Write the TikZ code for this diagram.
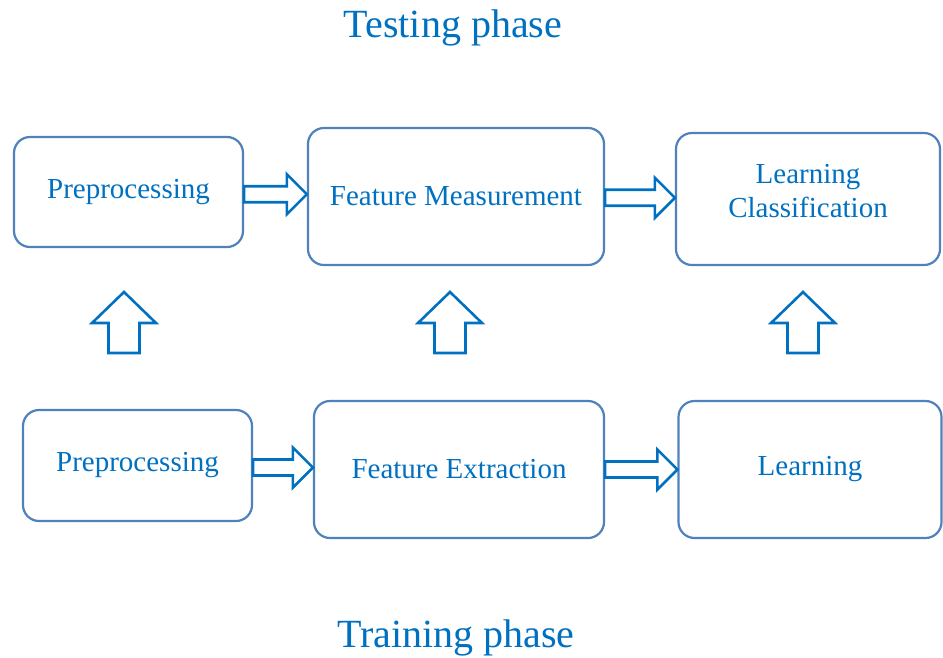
\documentclass[tikz,border=0pt]{standalone}
\usepackage{fontspec}
\setmainfont{Liberation Serif}
\usetikzlibrary{calc}
\definecolor{boxline}{HTML}{4F81BD}
\definecolor{txtblue}{HTML}{0070C0}
\tikzset{
  stage/.style={draw=boxline, line width=2.2pt, rounded corners=16pt, text=txtblue,
    align=center, font=\fontsize{29}{34}\selectfont},
  fatarrow/.style={draw=txtblue, line width=2.6pt, fill=white, line join=miter},
  phase/.style={text=txtblue, font=\fontsize{40}{48}\selectfont, anchor=base}
}
\begin{document}
\begin{tikzpicture}[x=1pt,y=-1pt]
  \useasboundingbox (0,0) rectangle (943,657);
  % testing phase (top row)
  \node[stage, minimum width=229pt, minimum height=110pt] (tpre) at (128.5,192) {Preprocessing};
  \node[stage, minimum width=296pt, minimum height=137pt] (tfeat) at (456,196.5) {Feature Measurement};
  \node[stage, minimum width=264pt, minimum height=132pt] (tclass) at (808,199) {};
  \node[text=txtblue, align=center, font=\fontsize{29}{34}\selectfont] (tclasstxt) at (808,191) {Learning\\Classification};
  % training phase (bottom row)
  \node[stage, minimum width=229pt, minimum height=111pt] (rpre) at (137.5,465.5) {Preprocessing};
  \node[stage, minimum width=290pt, minimum height=137pt] (rfeat) at (459,469.5) {Feature Extraction};
  \node[stage, minimum width=263pt, minimum height=137pt] (rlearn) at (810,469.5) {Learning};
  % titles
  \node[phase] (ttitle) at (453,37) {Testing phase};
  \node[phase] (rtitle) at (456,647) {Training phase};
  % block arrows between stages
  \foreach \a/\b in {tpre/tfeat, tfeat/tclass, rpre/rfeat, rfeat/rlearn}
    \draw[fatarrow] let \p1=(\a.east), \p2=(\b.west), \p3=($(\a.east)!0.5!(\b.west)$) in
      (\x1,\y3+8pt) -- (\x2-20pt,\y3+8pt) -- (\x2-20pt,\y3+20pt) -- (\x2,\y3)
      -- (\x2-20pt,\y3-20pt) -- (\x2-20pt,\y3-8pt) -- (\x1,\y3-8pt) -- cycle;
  % up arrows from training to testing
  \foreach \c in {124,450,803}
    \draw[fatarrow] (\c-15.5,353) -- (\c-15.5,323) -- (\c-32,323) -- (\c,292)
      -- (\c+32,323) -- (\c+15.5,323) -- (\c+15.5,353) -- cycle;
\end{tikzpicture}
\end{document}
